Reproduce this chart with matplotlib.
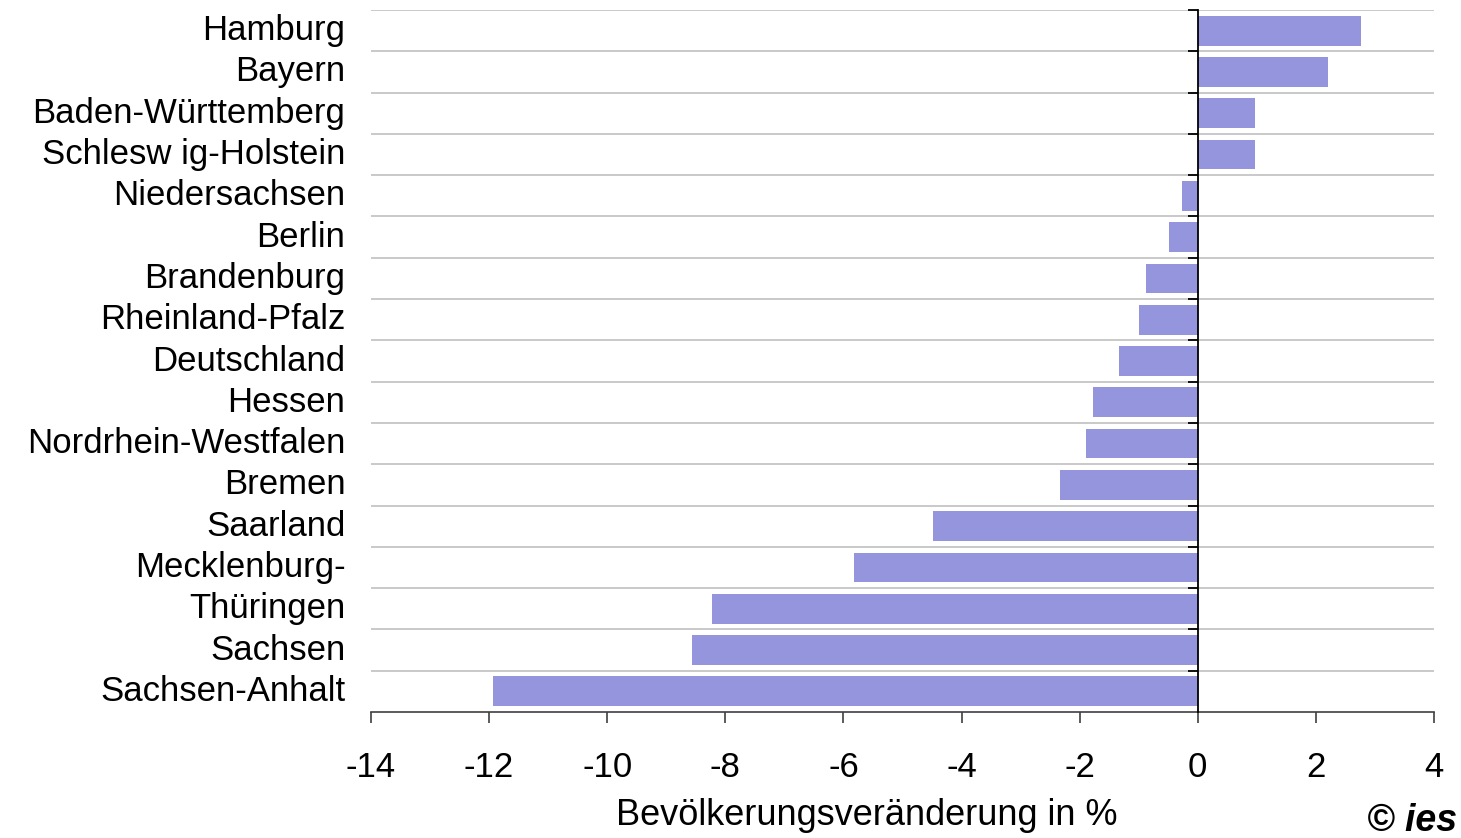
import numpy as np
import matplotlib.pyplot as plt
import matplotlib.transforms as mtransforms

plt.rcParams['font.family'] = ['Liberation Sans', 'DejaVu Sans']

# data (top to bottom)
regions = ['Hamburg', 'Bayern', 'Baden-Württemberg', 'Schlesw ig-Holstein',
           'Niedersachsen', 'Berlin', 'Brandenburg', 'Rheinland-Pfalz',
           'Deutschland', 'Hessen', 'Nordrhein-Westfalen', 'Bremen',
           'Saarland', 'Mecklenburg-', 'Thüringen', 'Sachsen', 'Sachsen-Anhalt']
change = [2.76, 2.20, 0.97, 0.97, -0.27, -0.49, -0.88, -1.0, -1.34,
          -1.78, -1.90, -2.34, -4.49, -5.82, -8.23, -8.57, -11.94]
xticks = [-14, -12, -10, -8, -6, -4, -2, 0, 2, 4]

fig = plt.figure(figsize=(14.61, 8.38), dpi=100)
ax = fig.add_axes([371/1461, 1 - 712/838, 1063/1461, 702/838])

n = len(regions)
y = np.arange(n)
ax.barh(y, change, height=0.72, color='#9595dd', zorder=2)
ax.set_xlim(-14, 4)
ax.set_ylim(n - 0.5, -0.5)

# gridlines between categories
bounds = np.arange(n + 1) - 0.5
for b in bounds[:-1]:
    ax.axhline(b, color='#c0c0c0', lw=1.2, zorder=1)

# vertical axis at zero
ax.spines['left'].set_position(('data', 0))
ax.spines['left'].set_color('black')
ax.spines['left'].set_linewidth(1.3)
ax.spines['left'].set_zorder(3)
ax.spines['top'].set_visible(False)
ax.spines['right'].set_visible(False)
ax.spines['bottom'].set_color('#404040')
ax.spines['bottom'].set_linewidth(1.2)
ax.set_yticks(bounds[:-1], minor=False)
ax.set_yticklabels([])
ax.tick_params(axis='y', which='major', length=7, width=1.3, direction='out', color='black')

# category labels on the left
trans = mtransforms.blended_transform_factory(ax.transAxes, ax.transData)
for yi, name in zip(y, regions):
    ax.text(-0.024, yi, name, transform=trans, ha='right', va='center', fontsize=25)

ax.set_xticks(xticks)
ax.set_xticklabels([str(t) for t in xticks], fontsize=25)
ax.tick_params(axis='x', length=8, width=1.2, color='#404040', pad=20)

fig.text(867/1461, 1 - 815/838, 'Bevölkerungsveränderung in %', ha='center', va='center', fontsize=26)
fig.text(1457/1461, 1 - 821/838, '© ies', ha='right', va='center', fontsize=27,
         fontweight='bold', fontstyle='italic')

fig.savefig('out.png', dpi=100)
